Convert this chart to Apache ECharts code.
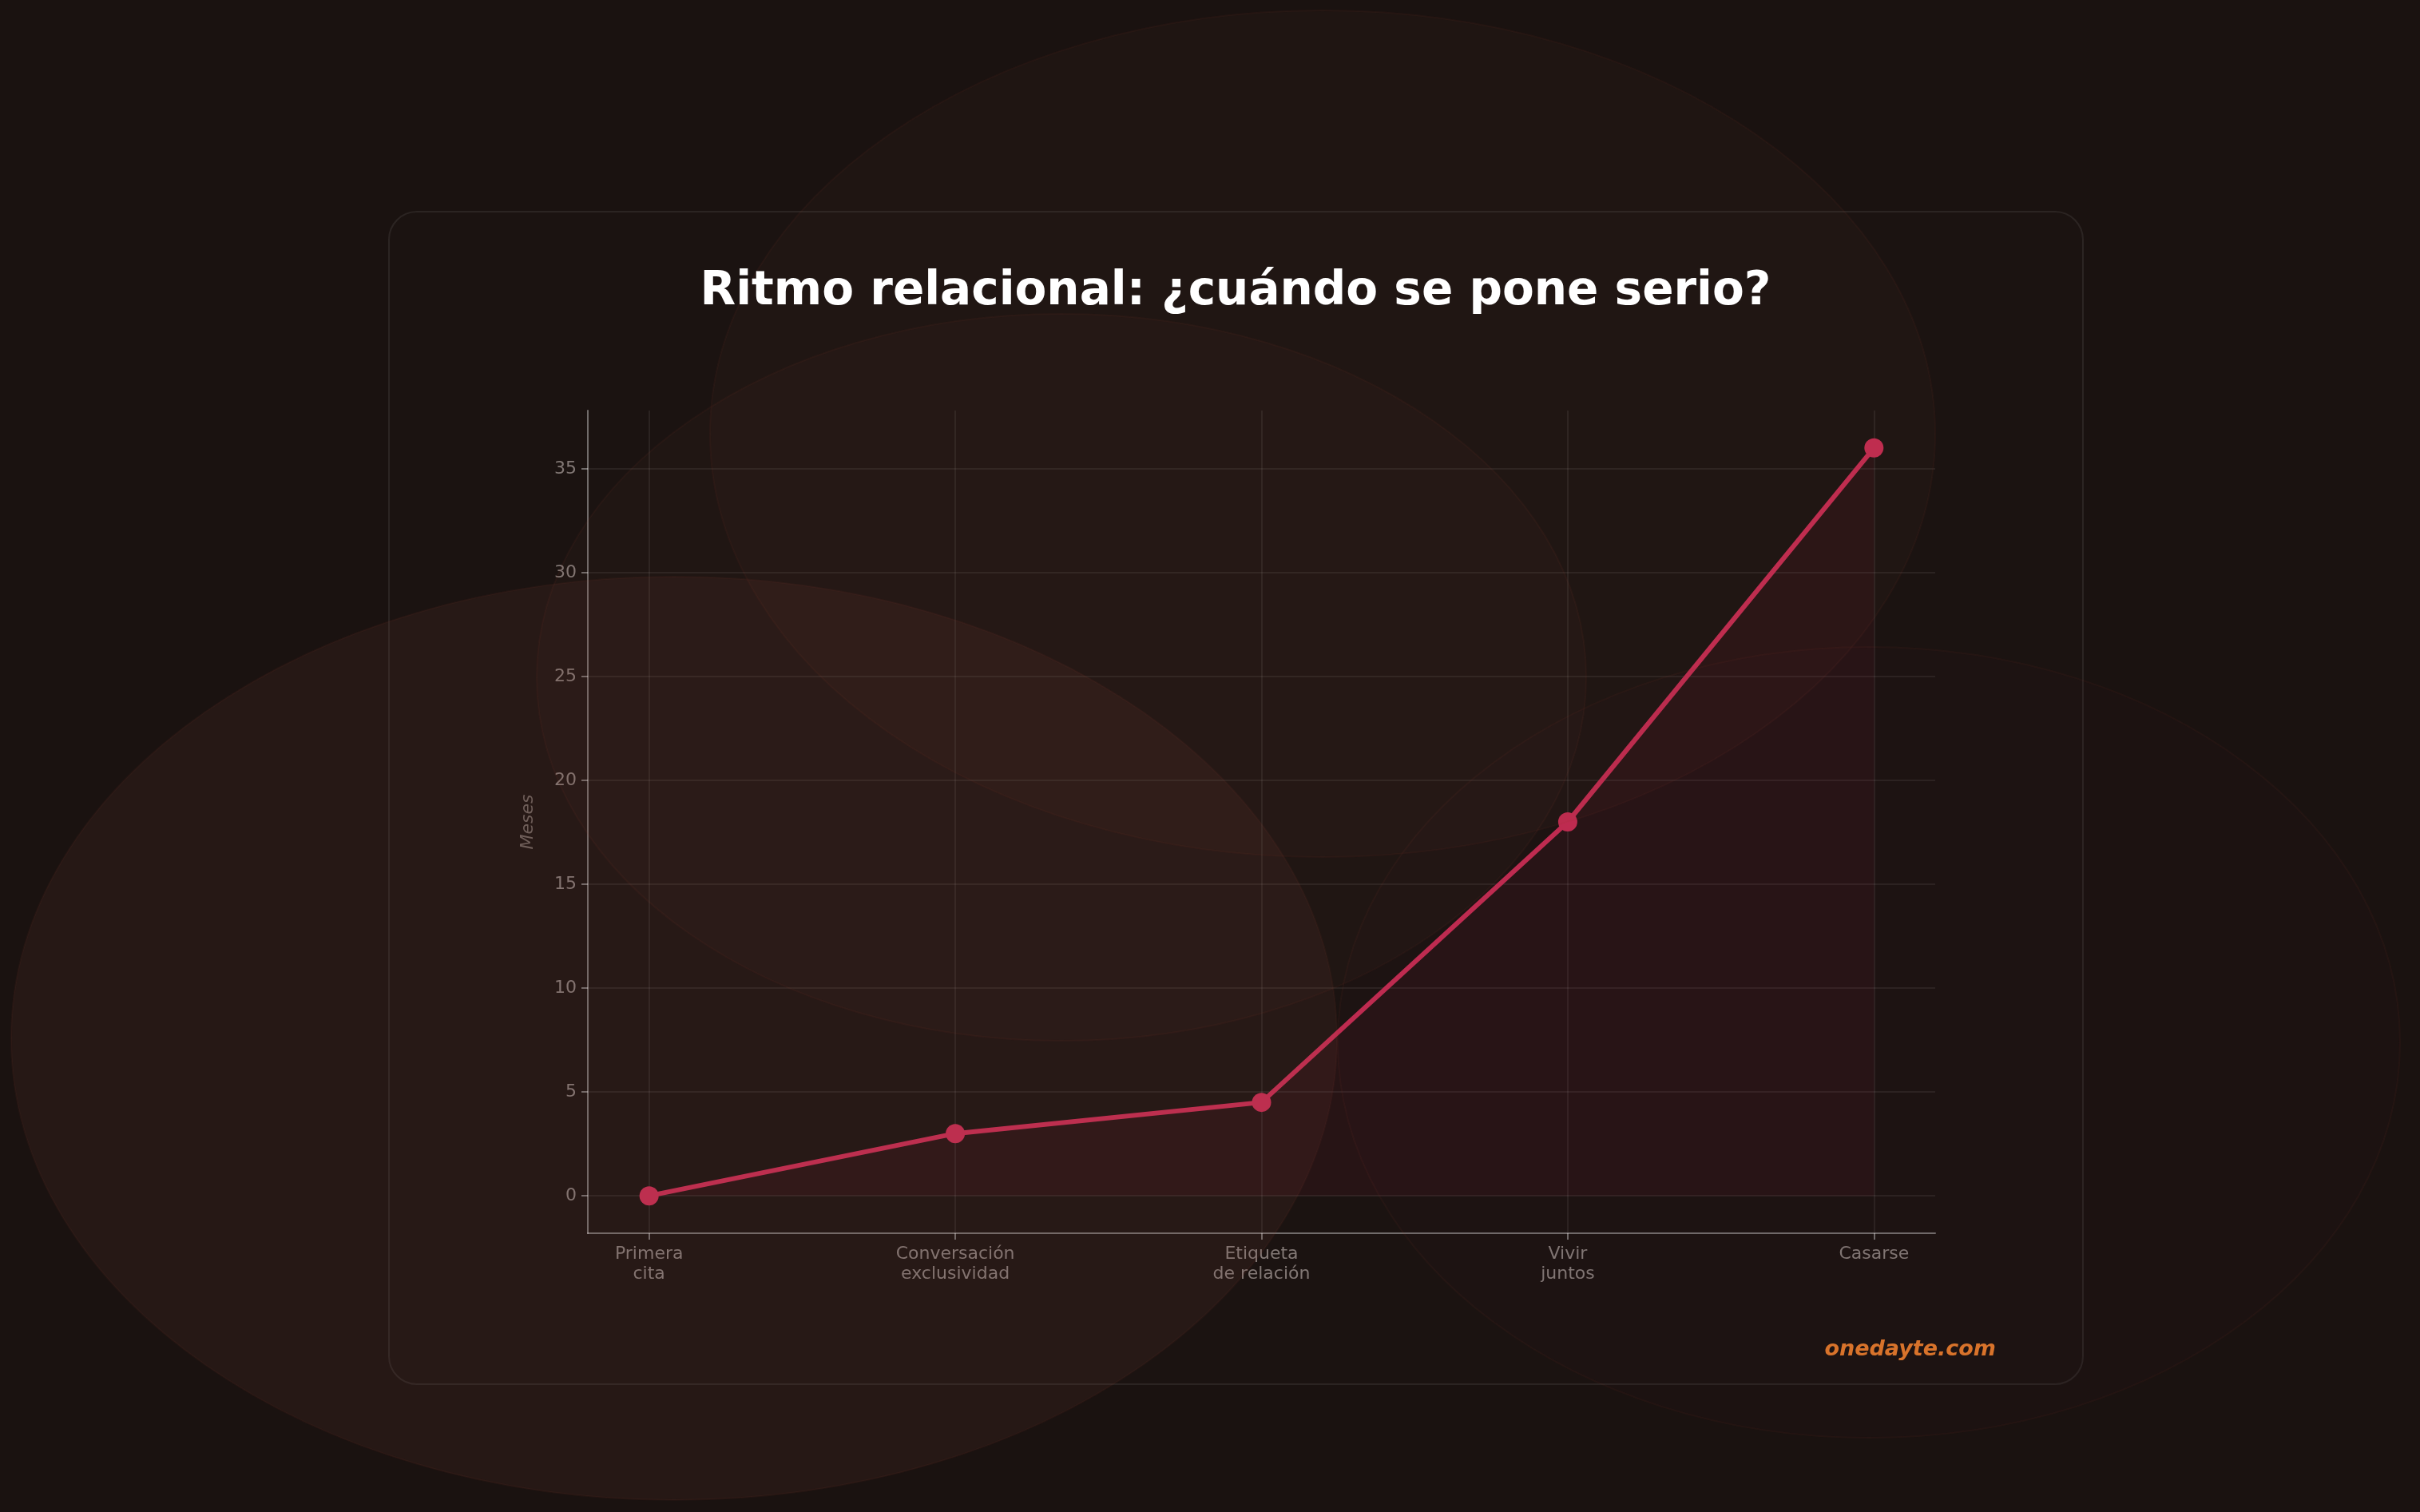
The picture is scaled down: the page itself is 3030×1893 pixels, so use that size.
<!DOCTYPE html>
<html lang="es">
<head>
    <meta charset="UTF-8">
    <title>Ritmo relacional</title>
    <script src="https://cdn.jsdelivr.net/npm/echarts@6.0.0/dist/echarts.min.js"></script>
    <style>
        html, body {
            margin: 0;
            padding: 0;
            background-color: #1a1210;
        }

        #main {
            width: 3030px;
            height: 1893px;
        }
    </style>
</head>
<body>
    <div id="main"></div>
    <script>
        // datos
        var categories = ['Primera\ncita', 'Conversación\nexclusividad', 'Etiqueta\nde relación', 'Vivir\njuntos', 'Casarse'];
        var months = [0, 3, 4.5, 18, 36];
        var catTicks = [0, 1, 2, 3, 4];
        var yTicks = [0, 5, 10, 15, 20, 25, 30, 35];

        var font = 'DejaVu Sans';
        var red = '#c22c51';
        var axisGrey = 'rgba(255,255,255,0.38)';
        var splitGrey = 'rgba(255,255,255,0.07)';
        var labelGrey = '#827875';

        var seriesData = months.map(function (v, i) { return [catTicks[i], v]; });

        var myChart = echarts.init(document.getElementById('main'));

        // manchas decorativas del fondo
        var blobs = [
            { cx: 1656, cy: 543, rx: 767, ry: 530, fill: 'rgba(130,75,60,0.05)' },
            { cx: 1329, cy: 848, rx: 657, ry: 455, fill: 'rgba(135,72,60,0.05)' },
            { cx: 844, cy: 1300, rx: 830, ry: 578, fill: 'rgba(145,80,70,0.1)' },
            { cx: 2340, cy: 1305, rx: 665, ry: 495, fill: 'rgba(110,45,60,0.03)' }
        ];

        var graphics = [{
            type: 'rect',
            z: -1,
            shape: { x: 487, y: 265, width: 2121, height: 1468, r: 35 },
            style: { fill: 'rgba(255,255,255,0.006)', stroke: 'rgba(255,255,255,0.08)', lineWidth: 2 }
        }];

        blobs.forEach(function (b) {
            graphics.push({
                type: 'ellipse',
                z: 50,
                silent: true,
                shape: { cx: b.cx, cy: b.cy, rx: b.rx, ry: b.ry },
                style: { fill: b.fill, stroke: 'rgba(150,70,45,0.08)', lineWidth: 2 }
            });
        });

        graphics.push({
            type: 'text',
            z: 100,
            x: 1547,
            y: 366,
            style: {
                text: 'Ritmo relacional: ¿cuándo se pone serio?',
                fill: '#ffffff',
                font: 'bold 58px "DejaVu Sans"',
                align: 'center',
                verticalAlign: 'middle'
            }
        });

        graphics.push({
            type: 'text',
            z: 100,
            x: 2499,
            y: 1690,
            style: {
                text: 'onedayte.com',
                fill: '#d8732b',
                font: 'italic bold 27px "DejaVu Sans"',
                align: 'right',
                verticalAlign: 'middle'
            }
        });

        var option = {
            animation: false,
            backgroundColor: '#1a1210',
            textStyle: { fontFamily: font },
            grid: {
                left: 736,
                right: 607,
                top: 514,
                bottom: 349,
                containLabel: false,
                outerBoundsMode: 'none'
            },
            xAxis: {
                type: 'value',
                min: -0.2,
                max: 4.2,
                axisLine: { show: true, onZero: false, lineStyle: { color: axisGrey, width: 2 } },
                axisTick: { show: true, customValues: catTicks, length: 8, lineStyle: { color: axisGrey, width: 2 } },
                axisLabel: {
                    customValues: catTicks,
                    formatter: function (v) { return categories[Math.round(v)]; },
                    color: labelGrey,
                    fontSize: 22,
                    lineHeight: 25,
                    margin: 14,
                    fontFamily: font
                },
                splitLine: { show: true, lineStyle: { color: splitGrey, width: 2 } }
            },
            yAxis: {
                type: 'value',
                min: -1.8,
                max: 37.8,
                name: 'Meses',
                nameLocation: 'middle',
                nameGap: 64,
                nameTextStyle: { color: '#6b605c', fontSize: 22, fontStyle: 'italic', fontFamily: font },
                axisLine: { show: true, onZero: false, lineStyle: { color: axisGrey, width: 2 } },
                axisTick: { show: true, customValues: yTicks, length: 8, lineStyle: { color: axisGrey, width: 2 } },
                axisLabel: {
                    customValues: yTicks,
                    color: labelGrey,
                    fontSize: 22,
                    margin: 14,
                    fontFamily: font
                },
                splitLine: { show: true, lineStyle: { color: splitGrey, width: 2 } }
            },
            series: [{
                type: 'line',
                data: seriesData,
                symbol: 'circle',
                symbolSize: 24,
                lineStyle: { color: red, width: 6 },
                itemStyle: { color: red },
                areaStyle: { color: 'rgba(194,44,81,0.1)' },
                z: 10
            }],
            graphic: { elements: graphics }
        };

        myChart.setOption(option);
    </script>
</body>
</html>
